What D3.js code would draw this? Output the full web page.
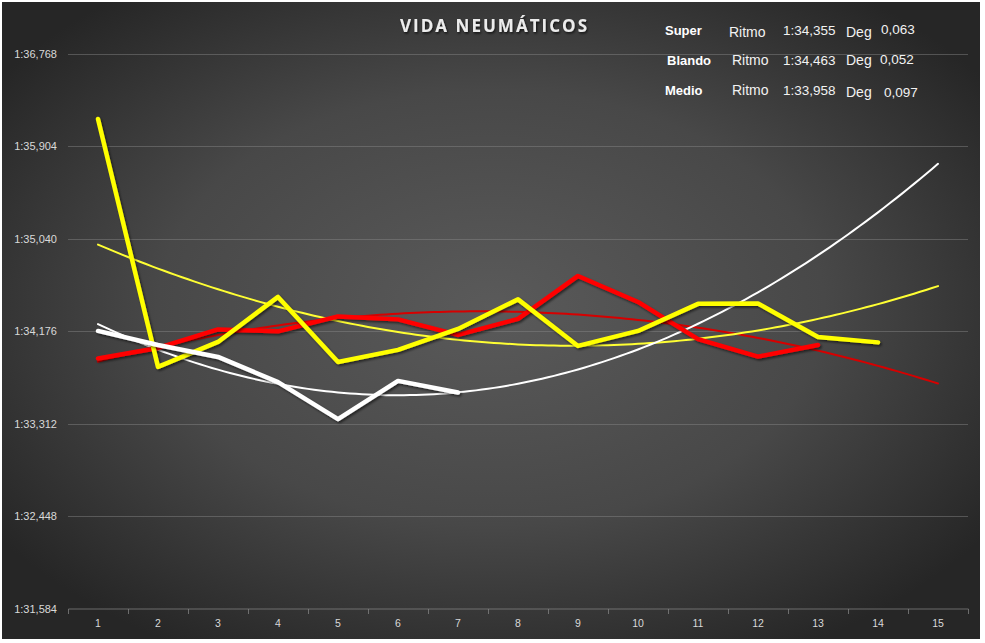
<!DOCTYPE html>
<html>
<head>
<meta charset="utf-8">
<script src="https://cdn.jsdelivr.net/npm/d3@7"></script>
<style>
  html, body { margin: 0; padding: 0; background: #ffffff; }
  svg { display: block; }
</style>
</head>
<body>
<svg id="chart" width="985" height="643"></svg>
<script>
// ---------------- DATA (lap times in seconds, 1:xx,xxx) ----------------
const categories = [1, 2, 3, 4, 5, 6, 7, 8, 9, 10, 11, 12, 13, 14, 15];
const yTicks = [91.584, 92.448, 93.312, 94.176, 95.040, 95.904, 96.768];

const superLaps  = [93.922, 94.020, 94.193, 94.175, 94.315, 94.287, 94.142, 94.291, 94.693, 94.450, 94.102, 93.939, 94.048];
const blandoLaps = [96.161, 93.843, 94.076, 94.497, 93.889, 94.002, 94.198, 94.474, 94.039, 94.179, 94.432, 94.436, 94.123, 94.072];
const medioLaps  = [94.179, 94.048, 93.936, 93.701, 93.354, 93.712, 93.604];

const seriesNames  = ["Super", "Blando", "Medio"];
const seriesColors = ["#ff0000", "#ffff00", "#ffffff"];
const trendColors  = ["#d60000", "#ffff33", "#ffffff"];
const legendRitmo  = ["1:34,355", "1:34,463", "1:33,958"];
const legendDeg    = ["0,063", "0,052", "0,097"];
const trendForecastTo = 15;
const title = "VIDA NEUMÁTICOS";

// ---------------- SETUP ----------------
const svg = d3.select("#chart");
const defs = svg.append("defs");

const grad = defs.append("radialGradient").attr("id", "bg")
  .attr("cx", "50%").attr("cy", "48%").attr("r", "62%");
grad.append("stop").attr("offset", "0%").attr("stop-color", "#5a5a5a");
grad.append("stop").attr("offset", "55%").attr("stop-color", "#484848");
grad.append("stop").attr("offset", "100%").attr("stop-color", "#262626");

const sh = defs.append("filter").attr("id", "shadow")
  .attr("x", "-10%").attr("y", "-10%").attr("width", "130%").attr("height", "130%");
sh.append("feDropShadow").attr("dx", 1.5).attr("dy", 1.8).attr("stdDeviation", 1.2)
  .attr("flood-color", "#000").attr("flood-opacity", 0.55);

const tsh = defs.append("filter").attr("id", "tshadow");
tsh.append("feDropShadow").attr("dx", 1).attr("dy", 1.5).attr("stdDeviation", 1)
  .attr("flood-color", "#000").attr("flood-opacity", 0.7);

svg.append("rect").attr("x", 2).attr("y", 2).attr("width", 978).attr("height", 637)
  .attr("fill", "url(#bg)");

const x = d3.scaleBand().domain(categories).range([68, 968]).padding(0);
const xc = d => x(d) + x.bandwidth() / 2;
const xLin = d3.scaleLinear().domain([1, 15]).range([xc(1), xc(15)]);
const y = d3.scaleLinear().domain([91.584, 96.768]).range([608.5, 54]);

function fmtTime(s) {
  const m = Math.floor(s / 60);
  const rest = s - m * 60;
  const sec = Math.floor(rest + 1e-9);
  const ms = Math.round((rest - sec) * 1000);
  return m + ":" + String(sec).padStart(2, "0") + "," + String(ms).padStart(3, "0");
}

// ---------------- GRID + AXES ----------------
const yAxis = d3.axisLeft(y).tickValues(yTicks).tickFormat(fmtTime)
  .tickSize(-(968 - 68)).tickPadding(11);
const gy = svg.append("g").attr("transform", "translate(68,0)").call(yAxis);
gy.select(".domain").remove();
gy.selectAll(".tick line").attr("stroke", "#8a8a8a").attr("stroke-opacity", 0.45).attr("stroke-width", 1)
  .attr("shape-rendering", "crispEdges");
gy.selectAll(".tick text").attr("fill", "#d9d9d9").attr("font-size", "11px")
  .attr("font-family", "'Liberation Sans', Arial, sans-serif");
gy.selectAll(".tick").filter(d => d === yTicks[0]).select("line").attr("stroke-opacity", 0);

const xAxis = d3.axisBottom(x).tickSize(0).tickPadding(11);
const gx = svg.append("g").attr("transform", "translate(0,608.5)").call(xAxis);
gx.select(".domain").attr("stroke", "#8a8a8a").attr("stroke-opacity", 0.7);
gx.selectAll(".tick text").attr("fill", "#d9d9d9").attr("font-size", "10.5px")
  .attr("font-family", "'Liberation Sans', Arial, sans-serif");
const bounds = categories.map(c => x(c)).concat([x(categories[categories.length - 1]) + x.bandwidth()]);
svg.append("g").selectAll("line").data(bounds).join("line")
  .attr("x1", d => d).attr("x2", d => d).attr("y1", 608.5).attr("y2", 613.5)
  .attr("stroke", "#8a8a8a").attr("stroke-opacity", 0.7).attr("shape-rendering", "crispEdges");

// ---------------- TRENDLINES (polynomial order 2, least squares) ----------------
function polyFit2(vals) {
  const n = vals.length;
  let s0 = n, s1 = 0, s2 = 0, s3 = 0, s4 = 0, t0 = 0, t1 = 0, t2 = 0;
  vals.forEach((v, i) => {
    const xi = i + 1;
    s1 += xi; s2 += xi * xi; s3 += xi ** 3; s4 += xi ** 4;
    t0 += v; t1 += xi * v; t2 += xi * xi * v;
  });
  const A = [[s0, s1, s2], [s1, s2, s3], [s2, s3, s4]];
  const B = [t0, t1, t2];
  const det = m => m[0][0] * (m[1][1] * m[2][2] - m[1][2] * m[2][1])
    - m[0][1] * (m[1][0] * m[2][2] - m[1][2] * m[2][0])
    + m[0][2] * (m[1][0] * m[2][1] - m[1][1] * m[2][0]);
  const D = det(A);
  const coef = [0, 1, 2].map(k => {
    const M = A.map((row, r) => row.map((v, c) => (c === k ? B[r] : v)));
    return det(M) / D;
  });
  return xv => coef[0] + coef[1] * xv + coef[2] * xv * xv;
}

const allSeries = [superLaps, blandoLaps, medioLaps];
const trendG = svg.append("g");
allSeries.forEach((vals, i) => {
  const f = polyFit2(vals);
  const pts = d3.range(1, trendForecastTo + 0.0001, 0.1).map(xv => [xLin(xv), y(f(xv))]);
  trendG.append("path").attr("d", d3.line()(pts))
    .attr("fill", "none").attr("stroke", trendColors[i]).attr("stroke-width", 2)
    .attr("stroke-linecap", "round");
});

// ---------------- SERIES LINES ----------------
const lineG = svg.append("g");
const line = d3.line().x((d, i) => xc(categories[i])).y(d => y(d));
allSeries.forEach((vals, i) => {
  lineG.append("path").attr("d", line(vals))
    .attr("fill", "none").attr("stroke", seriesColors[i]).attr("stroke-width", 4.5)
    .attr("stroke-linejoin", "round").attr("stroke-linecap", "round")
    .attr("filter", "url(#shadow)");
});

// ---------------- TITLE ----------------
svg.append("text").attr("x", 400).attr("y", 32).text(title)
  .attr("fill", "#ececec").attr("font-size", "17px").attr("font-weight", "bold")
  .attr("font-family", "'Open Sans', Lato, sans-serif")
  .attr("textLength", 187).attr("lengthAdjust", "spacing")
  .attr("filter", "url(#tshadow)");

// ---------------- LEGEND TEXT BLOCK ----------------
const rowY = [35, 65, 95];
const colX = { name: 665, ritmo: 730, time: 783, deg: 846 };
const valX = [881, 880, 884];
const lg = svg.append("g").attr("font-family", "'Liberation Sans', Arial, sans-serif")
  .attr("fill", "#ffffff");
seriesNames.forEach((name, i) => {
  lg.append("text").attr("x", colX.name + (i === 1 ? 2 : 0)).attr("y", rowY[i]).text(name)
    .attr("font-weight", "bold").attr("font-size", "13px");
  lg.append("text").attr("x", colX.ritmo + (i === 0 ? -1 : 2)).attr("y", rowY[i] + (i === 0 ? 2 : 0)).text("Ritmo")
    .attr("fill", "#f2f2f2").attr("font-size", "14px");
  lg.append("text").attr("x", colX.time).attr("y", rowY[i]).text(legendRitmo[i])
    .attr("fill", "#f2f2f2").attr("font-size", "13.5px");
  lg.append("text").attr("x", colX.deg).attr("y", rowY[i] + (i === 1 ? 0 : 2)).text("Deg")
    .attr("fill", "#f2f2f2").attr("font-size", "14px");
  lg.append("text").attr("x", valX[i]).attr("y", rowY[i] + (i === 2 ? 2 : -1)).text(legendDeg[i])
    .attr("fill", "#f2f2f2").attr("font-size", "13.5px");
});
</script>
</body>
</html>
